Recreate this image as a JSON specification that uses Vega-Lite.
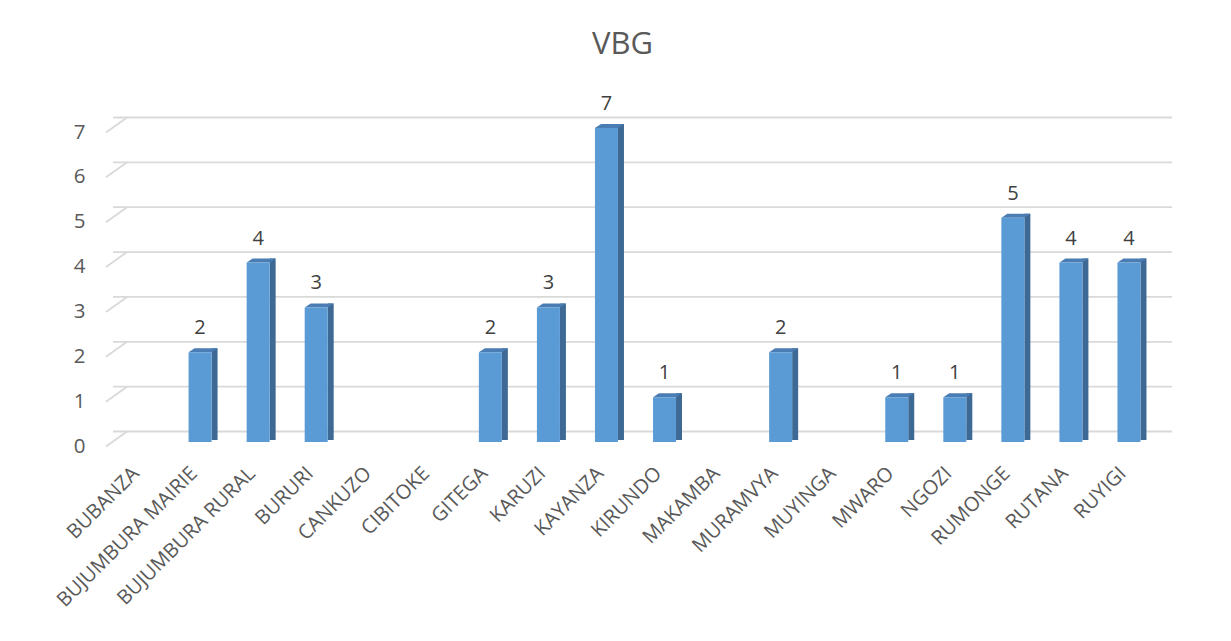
{
  "$schema": "https://vega.github.io/schema/vega-lite/v6.json",
  "autosize": "none",
  "width": 1045,
  "height": 314,
  "padding": {"left": 113, "top": 128, "right": 73, "bottom": 199},
  "background": "white",
  "config": {
    "view": {"stroke": null},
    "font": "Open Sans",
    "axisX": {"domain": false, "ticks": false, "grid": false, "labelAngle": -45, "labelAlign": "right", "labelBaseline": "middle", "labelFontSize": 20, "labelFont": "Open Sans", "labelColor": "#595959", "labelPadding": 28, "labelOffset": -6, "labelLimit": 0, "labelOverlap": false},
    "axisY": {"domain": false, "ticks": false, "grid": false, "labelFontSize": 20.5, "labelFont": "Open Sans", "labelColor": "#595959", "labelPadding": 28, "labelOffset": 4, "tickCount": 7}
  },
  "title": {"text": "VBG", "fontSize": 31, "font": "Open Sans", "fontWeight": "normal", "color": "#595959", "anchor": "middle", "dx": -13, "offset": 2, "baseline": "bottom"},
  "datasets": {
    "main": [
      {"province": "BUBANZA", "v": 0},
      {"province": "BUJUMBURA MAIRIE", "v": 2},
      {"province": "BUJUMBURA RURAL", "v": 4},
      {"province": "BURURI", "v": 3},
      {"province": "CANKUZO", "v": 0},
      {"province": "CIBITOKE", "v": 0},
      {"province": "GITEGA", "v": 2},
      {"province": "KARUZI", "v": 3},
      {"province": "KAYANZA", "v": 7},
      {"province": "KIRUNDO", "v": 1},
      {"province": "MAKAMBA", "v": 0},
      {"province": "MURAMVYA", "v": 2},
      {"province": "MUYINGA", "v": 0},
      {"province": "MWARO", "v": 1},
      {"province": "NGOZI", "v": 1},
      {"province": "RUMONGE", "v": 5},
      {"province": "RUTANA", "v": 4},
      {"province": "RUYIGI", "v": 4}
    ],
    "grid": [{"g": 0}, {"g": 1}, {"g": 2}, {"g": 3}, {"g": 4}, {"g": 5}, {"g": 6}, {"g": 7}]
  },
  "layer": [
    {
      "data": {"name": "grid"},
      "mark": {"type": "rule", "color": "#d9d9d9", "strokeWidth": 1.8, "xOffset": 14, "yOffset": -10.5},
      "encoding": {
        "y": {"field": "g", "type": "quantitative", "scale": {"domain": [0, 7], "nice": false, "zero": true}, "axis": {"title": null}}
      }
    },
    {
      "data": {"name": "grid"},
      "mark": {"type": "rule", "color": "#d9d9d9", "strokeWidth": 1.8, "xOffset": -7, "x2Offset": 14, "yOffset": 4.5, "y2Offset": -10.5},
      "encoding": {
        "x": {"datum": "BUBANZA", "type": "nominal", "bandPosition": 0, "axis": {"title": null}},
        "x2": {"datum": "BUBANZA", "bandPosition": 0},
        "y": {"field": "g", "type": "quantitative", "axis": {"title": null}},
        "y2": {"field": "g"}
      }
    },
    {
      "data": {"name": "main"},
      "transform": [{"filter": "datum.v > 0"}],
      "mark": {"type": "bar", "color": "#3d6994", "width": 6, "xOffset": 14.5, "yOffset": -4, "y2Offset": -2},
      "encoding": {
        "x": {"field": "province", "type": "nominal", "axis": {"title": null}},
        "y": {"field": "v", "type": "quantitative", "axis": {"title": null}},
        "y2": {"datum": 0}
      }
    },
    {
      "data": {"name": "main"},
      "transform": [{"filter": "datum.v > 0"}],
      "mark": {"type": "point", "filled": true, "opacity": 1, "color": "#4a7db3", "size": 841, "strokeWidth": 0, "xOffset": 3, "yOffset": -2, "shape": "M-1,0.138L0.586,0.138L1,-0.138L-0.586,-0.138Z"},
      "encoding": {
        "x": {"field": "province", "type": "nominal", "axis": {"title": null}},
        "y": {"field": "v", "type": "quantitative", "axis": {"title": null}}
      }
    },
    {
      "data": {"name": "main"},
      "transform": [{"filter": "datum.v > 0"}],
      "mark": {"type": "bar", "color": "#5b9bd5", "width": 23},
      "encoding": {
        "x": {
          "field": "province", "type": "nominal", "sort": null,
          "scale": {"type": "band", "paddingInner": 0, "paddingOuter": 0,
            "domain": ["BUBANZA", "BUJUMBURA MAIRIE", "BUJUMBURA RURAL", "BURURI", "CANKUZO", "CIBITOKE", "GITEGA", "KARUZI", "KAYANZA", "KIRUNDO", "MAKAMBA", "MURAMVYA", "MUYINGA", "MWARO", "NGOZI", "RUMONGE", "RUTANA", "RUYIGI"]},
          "axis": {"title": null}
        },
        "y": {
          "field": "v", "type": "quantitative",
          "scale": {"domain": [0, 7], "nice": false},
          "axis": {"title": null}
        }
      }
    },
    {
      "data": {"name": "main"},
      "transform": [{"filter": "datum.v > 0"}],
      "mark": {"type": "text", "fontSize": 20, "font": "Open Sans", "color": "#404040", "baseline": "middle", "yOffset": -24},
      "encoding": {
        "x": {"field": "province", "type": "nominal", "axis": {"title": null}},
        "y": {"field": "v", "type": "quantitative", "axis": {"title": null}},
        "text": {"field": "v", "type": "quantitative"}
      }
    }
  ]
}
